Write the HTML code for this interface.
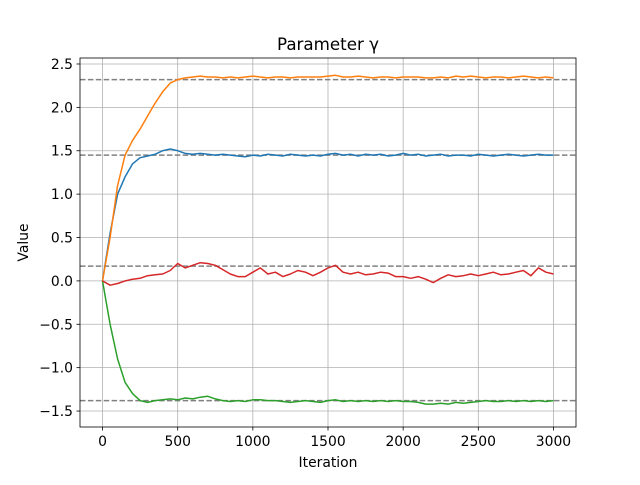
<!DOCTYPE html>
<html><head><meta charset="utf-8"><style>
body{margin:0;background:#fff}
svg text{font-family:"DejaVu Sans","Liberation Sans",sans-serif}
</style></head><body>
<svg id="chart" width="640" height="480" xmlns="http://www.w3.org/2000/svg">
<rect width="640" height="480" fill="#fff"/>
<g id="grid"></g><g id="refs"></g><g id="series"></g><g id="axes"></g>
</svg>
<script>
const xTicks=[0,500,1000,1500,2000,2500,3000];
const yTicks=[-1.5,-1.0,-0.5,0.0,0.5,1.0,1.5,2.0,2.5];
const yTickLabels=["−1.5","−1.0","−0.5","0.0","0.5","1.0","1.5","2.0","2.5"];
const refValues=[2.32,1.45,0.17,-1.38];
const stepIter=50;
const orange=[0,0.5,1.1,1.45,1.62,1.75,1.9,2.05,2.18,2.28,2.32,2.34,2.35,2.36,2.35,2.35,2.34,2.35,2.34,2.35,2.36,2.35,2.34,2.35,2.35,2.34,2.35,2.35,2.35,2.35,2.36,2.37,2.35,2.35,2.36,2.35,2.34,2.35,2.35,2.34,2.35,2.35,2.35,2.34,2.34,2.35,2.34,2.36,2.35,2.36,2.35,2.34,2.35,2.35,2.34,2.35,2.36,2.35,2.34,2.35,2.34];
const blue=[0,0.55,1.0,1.2,1.35,1.42,1.44,1.46,1.5,1.52,1.5,1.47,1.46,1.47,1.46,1.45,1.46,1.45,1.44,1.43,1.45,1.44,1.46,1.45,1.44,1.46,1.45,1.44,1.45,1.44,1.46,1.47,1.45,1.46,1.44,1.46,1.45,1.46,1.44,1.45,1.47,1.45,1.46,1.44,1.45,1.46,1.44,1.45,1.45,1.44,1.46,1.45,1.44,1.45,1.46,1.45,1.44,1.45,1.46,1.45,1.45];
const green=[0,-0.5,-0.9,-1.17,-1.3,-1.38,-1.4,-1.38,-1.37,-1.36,-1.37,-1.35,-1.36,-1.34,-1.33,-1.36,-1.38,-1.39,-1.38,-1.39,-1.37,-1.37,-1.38,-1.38,-1.39,-1.4,-1.39,-1.38,-1.39,-1.4,-1.38,-1.37,-1.39,-1.38,-1.39,-1.38,-1.39,-1.38,-1.39,-1.38,-1.39,-1.39,-1.4,-1.42,-1.42,-1.41,-1.42,-1.4,-1.41,-1.4,-1.39,-1.38,-1.39,-1.39,-1.38,-1.39,-1.38,-1.39,-1.38,-1.39,-1.38];
const red=[0,-0.05,-0.03,0.0,0.02,0.03,0.06,0.07,0.08,0.12,0.2,0.15,0.18,0.21,0.2,0.18,0.13,0.08,0.05,0.05,0.1,0.15,0.08,0.1,0.05,0.08,0.12,0.1,0.06,0.1,0.15,0.18,0.1,0.08,0.1,0.07,0.08,0.1,0.09,0.05,0.05,0.03,0.05,0.02,-0.02,0.03,0.07,0.05,0.06,0.08,0.06,0.08,0.1,0.07,0.08,0.1,0.12,0.06,0.15,0.1,0.08];

const L=80,R=576,T=58,B=427;
const xMin=-150,xMax=3150,yMin=-1.684,yMax=2.569;
const sx=v=>L+(v-xMin)/(xMax-xMin)*(R-L);
const sy=v=>B-(v-yMin)/(yMax-yMin)*(B-T);
const NS="http://www.w3.org/2000/svg";
function mk(tag,attrs,parent,txt){const e=document.createElementNS(NS,tag);for(const k in attrs)e.setAttribute(k,attrs[k]);if(txt!=null)e.textContent=txt;parent.appendChild(e);return e;}
const grid=document.getElementById('grid'),refs=document.getElementById('refs'),ser=document.getElementById('series'),ax=document.getElementById('axes');
xTicks.forEach(t=>{const x=sx(t);
 const g=mk('line',{x1:x,x2:x,y1:T,y2:B,stroke:'#b0b0b0','stroke-width':0.8},grid);
 
 mk('line',{x1:x,x2:x,y1:B,y2:B+3.5,stroke:'#000','stroke-width':0.8},ax);
 const tx=mk('text',{x:x,y:B+19,'font-size':'13.9','text-anchor':'middle'},ax,String(t));
 
});
yTicks.forEach((t,i)=>{const y=sy(t);
 const g=mk('line',{x1:L,x2:R,y1:y,y2:y,stroke:'#b0b0b0','stroke-width':0.8},grid);
 
 mk('line',{x1:L-3.5,x2:L,y1:y,y2:y,stroke:'#000','stroke-width':0.8},ax);
 const tx=mk('text',{x:L-7,y:y+5,'font-size':'13.9','text-anchor':'end'},ax,yTickLabels[i]);
 
});
refValues.forEach(v=>{const y=sy(v);
 const l=mk('line',{x1:L,x2:R,y1:y,y2:y,stroke:'#808080','stroke-width':1.5,'stroke-dasharray':'5.5,2.4'},refs);
 
});
[[blue,'#1f77b4','series-blue'],[orange,'#ff7f0e','series-orange'],[green,'#2ca02c','series-green'],[red,'#d62728','series-red']].forEach(([d,c,n])=>{
 const pts=d.map((v,i)=>sx(i*stepIter).toFixed(1)+','+sy(v).toFixed(1)).join(' ');
 const p=mk('polyline',{points:pts,fill:'none',stroke:c,'stroke-width':1.5,'stroke-linejoin':'round'},ser);
 
});
const f=mk('rect',{x:L,y:T,width:R-L,height:B-T,fill:'none',stroke:'#000','stroke-width':0.8},ax);

const ti=mk('text',{x:(L+R)/2,y:T-8,'font-size':'16.7','text-anchor':'middle'},ax,'Parameter γ');

const xl=mk('text',{x:(L+R)/2,y:467,'font-size':'13.9','text-anchor':'middle'},ax,'Iteration');

const yl=mk('text',{x:0,y:0,'font-size':'13.9','text-anchor':'middle',transform:'translate(28,'+((T+B)/2)+') rotate(-90)'},ax,'Value');

</script>
</body></html>
